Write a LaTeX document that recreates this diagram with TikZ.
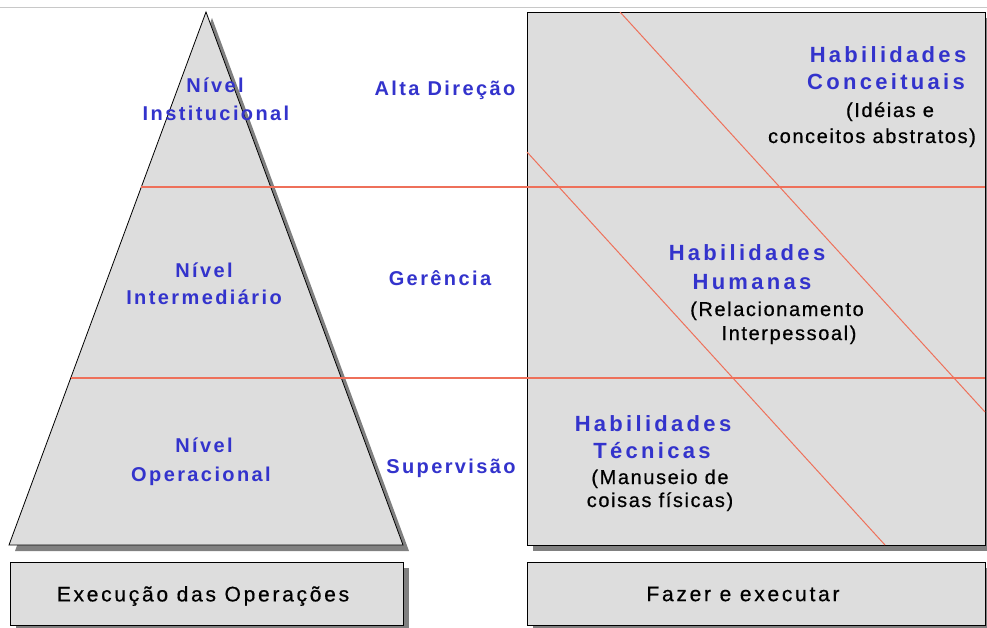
\documentclass[tikz,border=0pt]{standalone}
\usepackage{fontspec}
\setmainfont{Liberation Sans}
\newfontfamily\bluefont[LetterSpace=12]{Liberation Sans Bold}
\newfontfamily\habfont[LetterSpace=15]{Liberation Sans Bold}
\newfontfamily\descfont[LetterSpace=8,FakeBold=0.6]{Liberation Sans}
\newfontfamily\boxfont[LetterSpace=13,FakeBold=0.6]{Liberation Sans}
\definecolor{lblblue}{RGB}{51,51,204}
\definecolor{boxgray}{RGB}{221,221,221}
\definecolor{shade}{RGB}{128,128,128}
\definecolor{rline}{RGB}{238,112,90}
\definecolor{topline}{RGB}{200,200,200}
\tikzset{
  lvl/.style={font=\bluefont\fontsize{20}{27}\selectfont, text=lblblue, anchor=base, inner sep=0pt, align=center},
  hab/.style={font=\habfont\fontsize{22}{27}\selectfont, text=lblblue, anchor=base, inner sep=0pt},
  desc/.style={font=\descfont\fontsize{20}{26}\selectfont, text=black, anchor=base, inner sep=0pt},
  boxtxt/.style={font=\boxfont\fontsize{21}{24}\selectfont, text=black, anchor=center, inner sep=0pt},
  panel/.style={fill=boxgray, draw=black, line width=0.8pt},
  shadow/.style={fill=shade, draw=none},
  rl/.style={draw=rline, line width=1.2pt},
}
\begin{document}
\begin{tikzpicture}[x=1pt,y=-1pt]
\useasboundingbox (0,0) rectangle (987,628);
\fill[white] (0,0) rectangle (987,628);
\draw[topline, line width=1pt] (0,8) -- (987,8);
% shadows
\fill[shadow] (212,18) -- (409,551) -- (15,551) -- cycle;
\fill[shadow] (533,18) rectangle (991,551);
\fill[shadow] (16,568) rectangle (409,631);
\fill[shadow] (533,568) rectangle (991,631);
% pyramid
\coordinate (apex) at (206,12);
\coordinate (bl) at (9,545);
\coordinate (br) at (403,545);
\draw[panel] (apex) -- (br) -- (bl) -- cycle;
% skills box
\node[panel, minimum width=458pt, minimum height=533pt, anchor=north west, inner sep=0pt] (skills) at (527,12) {};
% bottom boxes
\node[panel, minimum width=393pt, minimum height=63pt, anchor=north west, inner sep=0pt] (exec) at (10,562) {};
\node[panel, minimum width=458pt, minimum height=63pt, anchor=north west, inner sep=0pt] (fazer) at (527,562) {};
% horizontal level lines
\coordinate (h1a) at (141,187);
\coordinate (h1b) at (985,187);
\coordinate (h2a) at (71,378);
\coordinate (h2b) at (985,378);
\draw[rl] (h1a) -- (h1b);
\draw[rl] (h2a) -- (h2b);
% diagonal lines
\coordinate (d1a) at (620,12);
\coordinate (d1b) at (985,412);
\coordinate (d2a) at (527,152);
\coordinate (d2b) at (885,545);
\draw[rl, line width=1pt] (d1a) -- (d1b);
\draw[rl, line width=1pt] (d2a) -- (d2b);
% pyramid labels
\node[lvl] (inst1) at (215,93) {Nível};
\node[lvl] (inst2) at (216,121) {Institucional};
\node[lvl] (int1) at (204,277) {Nível};
\node[lvl] (int2) at (204,304) {Intermediário};
\node[lvl] (op1) at (204,452) {Nível};
\node[lvl] (op2) at (201,481) {Operacional};
% level names
\node[lvl] (alta) at (445,96) {Alta Direção};
\node[lvl] (ger) at (440,285) {Gerência};
\node[lvl] (sup) at (451,473) {Supervisão};
% skills
\node[hab] (hc1) at (888,63) {Habilidades};
\node[hab] (hc2) at (886,90) {Conceituais};
\node[desc] (dc1) at (890,117) {(Idéias e};
\node[desc] (dc2) at (872,143) {conceitos abstratos)};
\node[hab] (hh1) at (747,261) {Habilidades};
\node[hab] (hh2) at (752,289) {Humanas};
\node[desc] (dh1) at (777,316) {(Relacionamento};
\node[desc] (dh2) at (789,340) {Interpessoal)};
\node[hab] (ht1) at (653,431) {Habilidades};
\node[hab] (ht2) at (652,458) {Técnicas};
\node[desc] (dt1) at (660,484) {(Manuseio de};
\node[desc] (dt2) at (660,507) {coisas físicas)};
% bottom texts
\node[boxtxt] (t1) at (203,596) {Execução das Operações};
\node[boxtxt] (t2) at (743,594) {Fazer e executar};
\end{tikzpicture}
\end{document}
